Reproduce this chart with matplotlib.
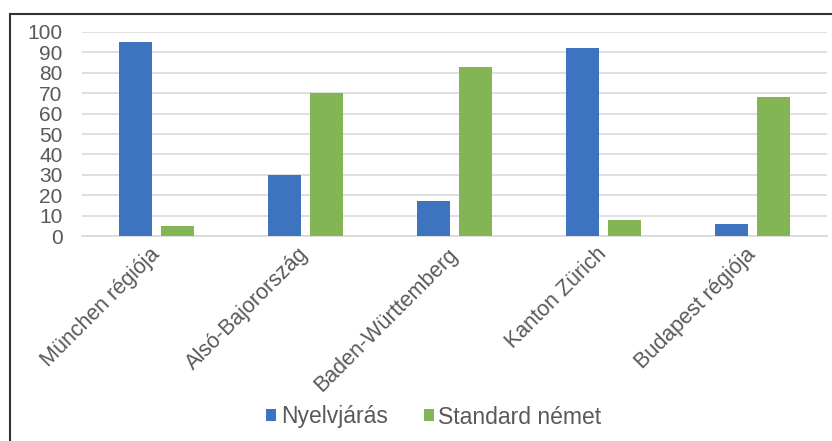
import matplotlib
matplotlib.use("Agg")
import matplotlib.pyplot as plt
import numpy as np
from matplotlib.lines import Line2D

categories = ["München régiója", "Alsó-Bajorország", "Baden-Württemberg", "Kanton Zürich", "Budapest régiója"]
nyelvjaras = [95, 30, 17, 92, 6]
standard = [5, 70, 83, 8, 68]
series_names = ["Nyelvjárás", "Standard német"]
yticks = list(range(0, 101, 10))

plt.rcParams['font.family'] = ['Liberation Sans', 'DejaVu Sans']
W, H = 832, 441
fig = plt.figure(figsize=(W/100, H/100), dpi=100)
ax = fig.add_axes([82/W, 1-236/H, (827-82)/W, (236-32)/H])

x = np.arange(len(categories))
bw = 0.22
off = 0.141
blue = "#3e74bf"
green = "#84b554"
ax.bar(x - off, nyelvjaras, bw, color=blue, label=series_names[0], zorder=3)
ax.bar(x + off, standard, bw, color=green, label=series_names[1], zorder=3)

ax.set_xlim(-0.5, len(categories) - 0.5)
ax.set_ylim(0, 100)
ax.set_yticks(yticks)
ax.set_yticklabels([str(v) for v in yticks])
ax.yaxis.grid(True, color="#d9d9d9", linewidth=1.2, zorder=0)
for s in ["top", "right", "left"]:
    ax.spines[s].set_visible(False)
ax.spines["bottom"].set_color("#d9d9d9")
ax.spines["bottom"].set_linewidth(1.2)
ax.tick_params(axis="y", length=0, pad=14, labelsize=15, labelcolor="#595959")
ax.tick_params(axis="x", length=0, pad=11, labelsize=15.5, labelcolor="#595959")
ax.set_xticks(x)
ax.set_xticklabels(categories, rotation=45, ha="right", va="center", rotation_mode="anchor")

leg = fig.legend(loc="center", bbox_to_anchor=(434/W, 1-417/H), ncol=2, frameon=False,
                 fontsize=16.5, handlelength=0.42, handleheight=0.42, handletextpad=0.2,
                 columnspacing=1.6, labelcolor="#595959")

fig.add_artist(Line2D([10/W, 10/W], [-0.05, 1-13.5/H], color="#333333", linewidth=1.5, transform=fig.transFigure))
fig.add_artist(Line2D([10/W, 1.05], [1-13.5/H, 1-13.5/H], color="#333333", linewidth=1.5, transform=fig.transFigure))

fig.savefig("out.png", dpi=100)
